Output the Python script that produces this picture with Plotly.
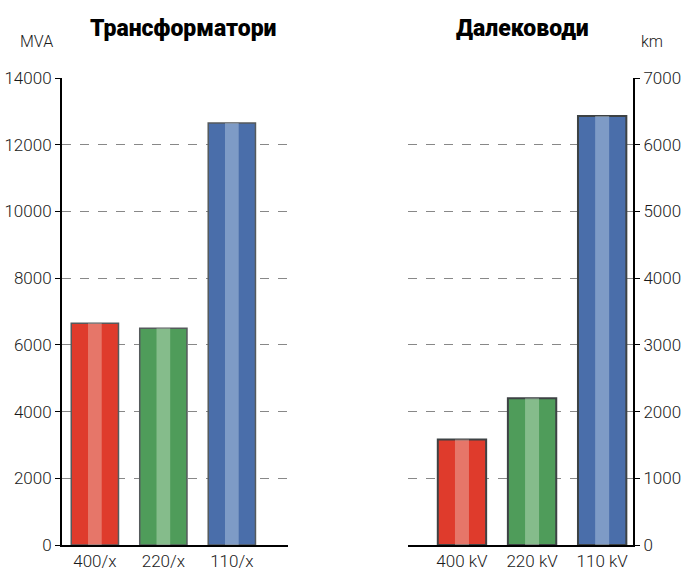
import plotly.graph_objects as go

# Data
trans_cats = ["400/x", "220/x", "110/x"]
trans_vals = [6650, 6500, 12650]
lines_cats = ["400 kV", "220 kV", "110 kV"]
lines_vals = [1580, 2200, 6430]
bar_colors = ["#df3b2c", "#4f9c5a", "#4a6eaa"]
streak_colors = ["rgba(240,190,180,0.45)", "rgba(200,228,200,0.45)", "rgba(190,210,232,0.45)"]
left_ticks = [0, 2000, 4000, 6000, 8000, 10000, 12000, 14000]
right_ticks = [0, 1000, 2000, 3000, 4000, 5000, 6000, 7000]

font_fam = "Roboto, sans-serif"
title_fam = "Roboto, sans-serif"

W, H, OFF = 688, 582, 0  # body margin removed via post_script


def px(x):
    return (x - OFF) / W


def py(y):
    return 1 - (y - OFF) / H


fig = go.Figure()
# Left: transformers
fig.add_trace(go.Bar(x=trans_cats, y=trans_vals, width=0.69,
                     marker=dict(color=bar_colors, line=dict(color="#555a5c", width=1.5)),
                     xaxis="x", yaxis="y", showlegend=False, hoverinfo="y"))
fig.add_trace(go.Bar(x=trans_cats, y=trans_vals, width=0.2,
                     marker=dict(color=streak_colors, line=dict(width=0)),
                     xaxis="x", yaxis="y", showlegend=False, hoverinfo="skip"))
# Right: lines
fig.add_trace(go.Bar(x=lines_cats, y=lines_vals, width=0.69,
                     marker=dict(color=bar_colors, line=dict(color="#3d4244", width=2)),
                     xaxis="x2", yaxis="y2", showlegend=False, hoverinfo="y"))
fig.add_trace(go.Bar(x=lines_cats, y=lines_vals, width=0.2,
                     marker=dict(color=streak_colors, line=dict(width=0)),
                     xaxis="x2", yaxis="y2", showlegend=False, hoverinfo="skip"))

ydom = [py(545), py(78)]
common_y = dict(showgrid=True, gridcolor="#888888", griddash="dash", gridwidth=1,
                showline=True, linecolor="black", linewidth=2,
                ticks="outside", ticklen=5, tickcolor="black", tickformat="d",
                tickfont=dict(family=font_fam, size=17, color="#1a1a1a", weight=300),
                zeroline=False, domain=ydom, automargin=False)
common_x = dict(type="category", showline=True, linecolor="black", linewidth=2,
                showgrid=False, ticks="", automargin=False,
                tickfont=dict(family=font_fam, size=17, color="#1a1a1a", weight=300))

fig.update_layout(
    width=W, height=H,
    margin=dict(l=0, r=0, t=0, b=0),
    plot_bgcolor="white", paper_bgcolor="white",
    barmode="overlay",
    xaxis=dict(domain=[px(62), px(288)], range=[-0.48, 2.82], anchor="y", **common_x),
    yaxis=dict(range=[0, 14000], tickvals=left_ticks, side="left", anchor="x", **common_y),
    xaxis2=dict(domain=[px(408), px(633)], range=[-0.77, 2.44], anchor="y2", **common_x),
    yaxis2=dict(range=[0, 7000], tickvals=right_ticks, side="right", anchor="x2", **common_y),
    annotations=[
        dict(text="Трансформатори", x=px(184), y=py(28), xref="paper", yref="paper",
             xanchor="center", yanchor="middle",
             showarrow=False, font=dict(family=title_fam, size=23, color="black", weight=900)),
        dict(text="Далеководи", x=px(522), y=py(28), xref="paper", yref="paper",
             xanchor="center", yanchor="middle",
             showarrow=False, font=dict(family=title_fam, size=23, color="black", weight=900)),
        dict(text="MVA", x=px(36), y=py(42), xref="paper", yref="paper",
             xanchor="center", yanchor="middle",
             showarrow=False, font=dict(family=font_fam, size=16, color="#1a1a1a", weight=300)),
        dict(text="km", x=px(652), y=py(42), xref="paper", yref="paper",
             xanchor="center", yanchor="middle",
             showarrow=False, font=dict(family=font_fam, size=16, color="#1a1a1a", weight=300)),
    ],
)

fig.write_html("out.html", config={"displayModeBar": False},
               post_script="document.body.style.margin='0';document.body.style.padding='0';")
